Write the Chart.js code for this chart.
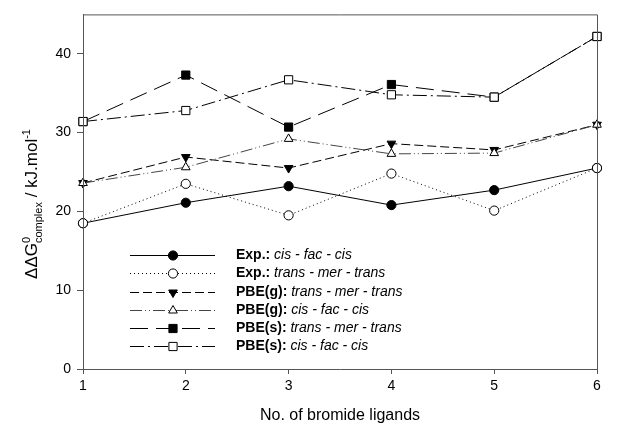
<!DOCTYPE html>
<html>
<head>
<meta charset="utf-8">
<script src="https://cdn.jsdelivr.net/npm/chart.js@4/dist/chart.umd.min.js"></script>
<style>
  html, body { margin: 0; padding: 0; background: #fff; }
  #wrap { width: 636px; height: 429px; }
</style>
</head>
<body>
<div id="wrap"><canvas id="chart"></canvas></div>
<script>
// number of bromide ligands
const ligands = [1, 2, 3, 4, 5, 6];
// values (kJ/mol)
const expCis = [18.5, 21.1, 23.2, 20.8, 22.7, 25.5];
const expTrans = [18.5, 23.5, 19.5, 24.8, 20.1, 25.5];
const pbeGTrans = [23.6, 26.9, 25.5, 28.6, 27.8, 31.0];
const pbeGCis = [23.6, 25.6, 29.2, 27.3, 27.4, 31.0];
const pbeSTrans = [31.4, 37.3, 30.7, 36.1, 34.5, 42.2];
const pbeSCis = [31.4, 32.8, 36.7, 34.8, 34.5, 42.2];
const yTicks = [0, 10, 20, 30, 40];
const legendBold = ['Exp.:', 'Exp.:', 'PBE(g):', 'PBE(g):', 'PBE(s):', 'PBE(s):'];
const legendItalic = ['cis - fac - cis', 'trans - mer - trans', 'trans - mer - trans',
                      'cis - fac - cis', 'trans - mer - trans', 'cis - fac - cis'];

const FONT = 'Arial, "Liberation Sans", sans-serif';

function pts(arr) {
    return ligands.map((x, i) => ({ x: x, y: arr[i] }));
}

function series(arr, dash, style, filled, rot, color) {
    return {
        data: pts(arr),
        borderColor: color || '#000',
        borderWidth: 1,
        borderDash: dash,
        pointStyle: style,
        pointRotation: rot || 0,
        pointRadius: style === 'rect' ? 5.8 : (style === 'circle' ? 4.6 : 5),
        pointBorderWidth: 1,
        pointBorderColor: '#000',
        pointBackgroundColor: filled ? '#000' : '#fff',
        fill: false,
        tension: 0,
        clip: false
    };
}

const datasets = [
    series(expCis, [], 'circle', true),
    series(expTrans, [1, 3], 'circle', false),
    series(pbeGTrans, [9, 4], 'triangle', true, 180),
    series(pbeGCis, [12, 3, 1, 3, 1, 3], 'triangle', false, 0, '#444'),
    series(pbeSTrans, [18, 8], 'rect', true),
    series(pbeSCis, [14, 4, 2, 4], 'rect', false)
];
// draw open markers on top
datasets.reverse();

// frame, legend and y-title
const extras = {
    id: 'extras',
    afterDraw(chart) {
        const c = chart.ctx;
        const a = chart.chartArea;
        c.save();
        c.strokeStyle = '#555';
        c.lineWidth = 1;
        c.beginPath();
        c.moveTo(a.left + 0.5, a.bottom);
        c.lineTo(a.left + 0.5, a.top + 0.5);
        c.lineTo(a.right + 0.5, a.top + 0.5);
        c.lineTo(a.right + 0.5, a.bottom);
        c.stroke();

        // legend
        const ds = chart.data.datasets.slice().reverse();
        const rowY = [255, 273, 292, 310, 328, 346];
        ds.forEach((d, i) => {
            const y = rowY[i] + 0.5;
            c.strokeStyle = d.borderColor;
            c.lineWidth = 1;
            c.setLineDash(d.borderDash);
            c.beginPath();
            c.moveTo(130, y);
            c.lineTo(215, y);
            c.stroke();
            c.setLineDash([]);
            c.fillStyle = d.pointBackgroundColor;
            c.strokeStyle = '#000';
            Chart.helpers.drawPoint(c, {
                pointStyle: d.pointStyle, rotation: d.pointRotation,
                radius: d.pointRadius, borderWidth: 1
            }, 173, y);
            c.fillStyle = '#000';
            c.textBaseline = 'middle';
            c.textAlign = 'left';
            c.font = 'bold 14px ' + FONT;
            c.fillText(legendBold[i], 236, y);
            const w = c.measureText(legendBold[i] + ' ').width;
            c.font = 'italic 14px ' + FONT;
            c.fillText(legendItalic[i], 236 + w, y);
        });

        // y-axis title with sub/superscripts
        c.translate(31, 204);
        c.rotate(-Math.PI / 2);
        const parts = [
            ['ΔΔG', 17, 0], ['0', 11, -7], ['complex', 11, 5], [' / kJ.mol', 17, 0], ['-1', 11, -7]
        ];
        let total = 0;
        parts.forEach(p => { c.font = p[1] + 'px ' + FONT; total += c.measureText(p[0]).width; });
        // superscript 0 sits above complex
        c.font = '11px ' + FONT;
        total -= c.measureText('0').width;
        let x = -total / 2;
        c.textBaseline = 'alphabetic';
        c.fillStyle = '#000';
        parts.forEach((p, i) => {
            c.font = p[1] + 'px ' + FONT;
            c.fillText(p[0], x, 6 + p[2]);
            if (i !== 1) x += c.measureText(p[0]).width;
        });
        c.restore();
    }
};

new Chart(document.getElementById('chart'), {
    type: 'line',
    data: { datasets: datasets },
    options: {
        responsive: true,
        maintainAspectRatio: false,
        animation: false,
        layout: { padding: { top: 12, right: 39, left: 0, bottom: 0 } },
        plugins: { legend: { display: false }, tooltip: { enabled: false } },
        scales: {
            x: {
                type: 'linear',
                min: 1,
                max: 6,
                afterBuildTicks: s => { s.ticks = ligands.map(v => ({ value: v })); },
                afterFit: s => { s.height = 60; },
                border: { color: '#555', width: 1 },
                grid: { drawOnChartArea: false, color: '#555', tickLength: 5 },
                ticks: { color: '#000', font: { family: FONT, size: 14 }, padding: 4, maxRotation: 0 },
                title: {
                    display: true, text: 'No. of bromide ligands', color: '#000',
                    font: { family: FONT, size: 16 }, padding: { top: 16 }
                }
            },
            y: {
                min: 0,
                max: 45,
                afterBuildTicks: s => { s.ticks = yTicks.map(v => ({ value: v })); },
                afterFit: s => { s.width = 83; },
                border: { color: '#555', width: 1 },
                grid: { drawOnChartArea: false, color: '#555', tickLength: 6 },
                ticks: { color: '#000', font: { family: FONT, size: 14 }, padding: 6 }
            }
        }
    },
    plugins: [extras]
});
</script>
</body>
</html>
